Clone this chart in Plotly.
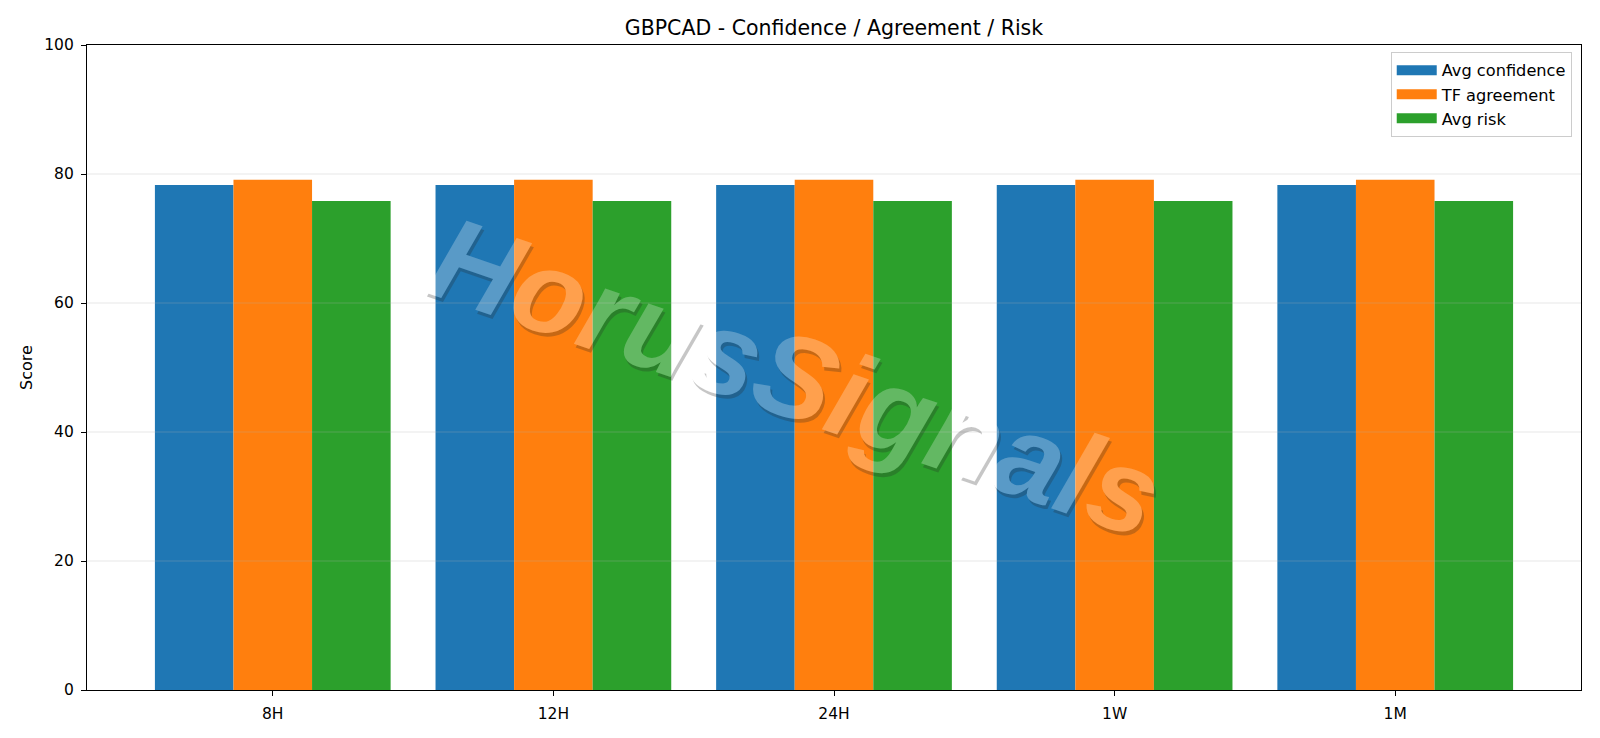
import plotly.graph_objects as go

# ---- data ----
categories = ["8H", "12H", "24H", "1W", "1M"]
avg_confidence = [78.3, 78.3, 78.3, 78.3, 78.3]
tf_agreement = [79.1, 79.1, 79.1, 79.1, 79.1]
avg_risk = [75.8, 75.8, 75.8, 75.8, 75.8]
series_names = ["Avg confidence", "TF agreement", "Avg risk"]
series_colors = ["#1f77b4", "#ff7f0e", "#2ca02c"]
y_ticks = [0, 20, 40, 60, 80, 100]
title_text = "GBPCAD - Confidence / Agreement / Risk"
y_title = "Score"
watermark = "HorusSignals"

FONT = "DejaVu Sans, Liberation Sans, sans-serif"

fig = go.Figure()
series_values = [avg_confidence, tf_agreement, avg_risk]
for name, vals, col in zip(series_names, series_values, series_colors):
    fig.add_trace(go.Bar(x=categories, y=vals, name=name, marker_color=col,
                         marker_line_width=0, showlegend=False))
# legend-only entries (wide patch look)
for name, col in zip(series_names, series_colors):
    fig.add_trace(go.Scatter(x=[None], y=[None], mode="lines", name=name,
                             line=dict(color=col, width=12)))

# gridlines drawn above bars (as in reference)
for t in y_ticks[1:-1]:
    fig.add_shape(type="line", xref="paper", yref="y", x0=0, x1=1, y0=t, y1=t,
                  line=dict(color="rgba(176,176,176,0.3)", width=1), layer="above")

fig.add_annotation(text=watermark, xref="paper", yref="paper", x=0.475, y=0.486,
                   showarrow=False, textangle=19, opacity=0.26,
                   font=dict(family="Liberation Sans, Arial, sans-serif", size=118,
                             color="white", weight="bold", style="italic",
                             shadow="3px 3px 0px rgb(40,40,40)"))

fig.update_layout(
    width=1600, height=738,
    margin=dict(l=87, r=19, t=45, b=48),
    paper_bgcolor="white", plot_bgcolor="white",
    barmode="group", bargap=0.16, bargroupgap=0,
    font=dict(family=FONT, size=15.5, color="black"),
    title=dict(text=title_text, x=0.5, xref="paper", xanchor="center",
               y=1 - 27.5 / 738, yref="container", yanchor="middle",
               font=dict(family=FONT, size=20.5, color="black")),
    legend=dict(x=0.9938, xanchor="right", y=0.989, yanchor="top",
                itemwidth=40,
                bgcolor="rgba(255,255,255,0.8)", bordercolor="#cccccc", borderwidth=1,
                font=dict(family=FONT, size=16.2, color="black")),
    showlegend=True,
)
fig.update_xaxes(type="category", range=[-0.662, 4.662], showgrid=False,
                 showline=True, mirror=True, linecolor="black", linewidth=1.2,
                 ticks="outside", ticklen=5, tickwidth=1.2, tickcolor="black",
                 ticklabelstandoff=4,
                 tickfont=dict(family=FONT, size=15.5, color="black"), zeroline=False)
fig.update_yaxes(range=[0, 100], tickvals=y_ticks, showgrid=False,
                 showline=True, mirror=True, linecolor="black", linewidth=1.2,
                 ticks="outside", ticklen=5, tickwidth=1.2, tickcolor="black",
                 ticklabelstandoff=4,
                 tickfont=dict(family=FONT, size=15.5, color="black"), zeroline=False,
                 title=dict(text=y_title, standoff=7,
                            font=dict(family=FONT, size=16, color="black")))

fig.write_html("out.html")
